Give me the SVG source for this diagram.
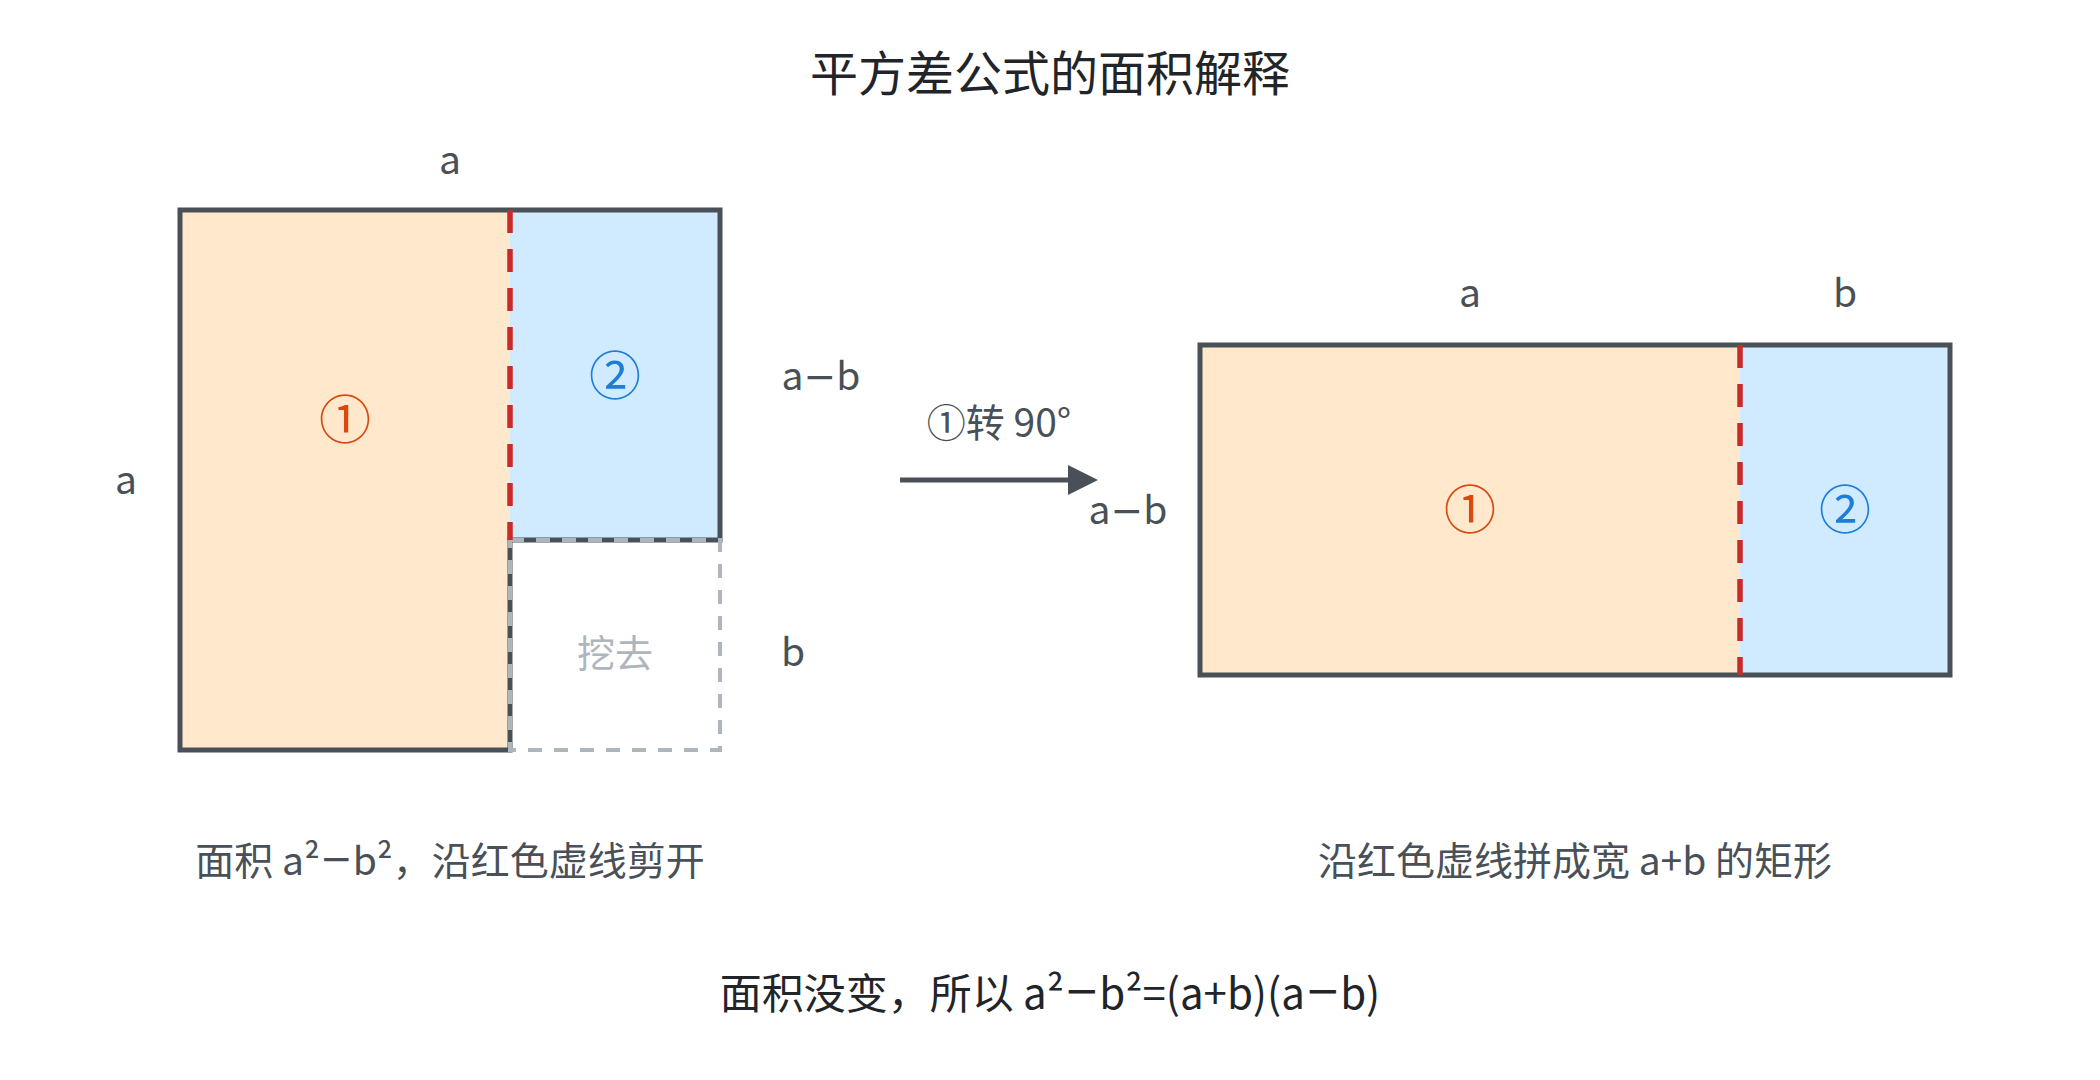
<svg xmlns="http://www.w3.org/2000/svg" width="2100" height="1080" viewBox="0 0 2100 1080">
  <style>
    text { font-family: "Noto Sans CJK SC", "Noto Sans", sans-serif; }
    .m { font-family: "DejaVu Sans", "Noto Sans CJK SC", sans-serif; }
    .title { font-size: 48px; fill: #212529; }
    .label { font-size: 39px; fill: #495057; }
    .cap { font-size: 39px; fill: #495057; }
    .bottom { font-size: 42px; fill: #212529; }
    .rot { font-size: 39px; fill: #495057; }
    .c1 { font-size: 52px; fill: #D9480F; }
    .c2 { font-size: 52px; fill: #1C7ED6; }
    .gone { font-size: 38px; fill: #ADB5BD; }
    .orange { fill: #FFE8CC; }
    .blue { fill: #D0EBFF; }
    .outline { fill: none; stroke: #495057; stroke-width: 5; }
    .cut { fill: none; stroke: #C92A2A; stroke-width: 5.5; stroke-dasharray: 23 16; }
    .removed { fill: none; stroke: #ADB5BD; stroke-width: 4; stroke-dasharray: 14 12; }
    .arrow { stroke: #495057; stroke-width: 5; fill: none; }
  </style>
  <defs>
    <marker id="ah" markerUnits="userSpaceOnUse" markerWidth="30" markerHeight="30" refX="12" refY="15" orient="auto">
      <path d="M0,0 L30,15 L0,30 Z" fill="#495057"/>
    </marker>
  </defs>
  <rect width="2100" height="1080" fill="#FFFFFF"/>

  <text id="title" class="title" x="1050" y="70" text-anchor="middle" dominant-baseline="central">平方差公式的面积解释</text>

  <g id="left-square">
    <rect class="orange" x="180" y="210" width="330" height="540"/>
    <rect class="blue" x="510" y="210" width="210" height="330"/>
    <path class="outline" d="M180,210 H720 V540 H510 V750 H180 Z"/>
    <rect class="removed" x="510" y="540" width="210" height="210"/>
    <line class="cut" x1="510" y1="210" x2="510" y2="540"/>
    <text class="c1" x="345" y="416" text-anchor="middle" dominant-baseline="central">①</text>
    <text class="c2" x="615" y="372" text-anchor="middle" dominant-baseline="central">②</text>
    <text class="gone" x="615" y="650" text-anchor="middle" dominant-baseline="central">挖去</text>
    <text class="label" x="450" y="174" text-anchor="middle">a</text>
    <text class="label" x="126" y="494" text-anchor="middle">a</text>
    <text class="label" x="821" y="390" text-anchor="middle">a<tspan class="m">−</tspan>b</text>
    <text class="label" x="793" y="666" text-anchor="middle">b</text>
  </g>

  <g id="right-rect">
    <rect class="orange" x="1200" y="345" width="540" height="330"/>
    <rect class="blue" x="1740" y="345" width="210" height="330"/>
    <rect class="outline" x="1200" y="345" width="750" height="330"/>
    <line class="cut" x1="1740" y1="345" x2="1740" y2="675"/>
    <text class="c1" x="1470" y="506" text-anchor="middle" dominant-baseline="central">①</text>
    <text class="c2" x="1845" y="506" text-anchor="middle" dominant-baseline="central">②</text>
    <text class="label" x="1470" y="307" text-anchor="middle">a</text>
    <text class="label" x="1845" y="307" text-anchor="middle">b</text>
    <text class="label" x="1128" y="524" text-anchor="middle">a<tspan class="m">−</tspan>b</text>
  </g>

  <g id="connectors">
    <line class="arrow" x1="900" y1="480" x2="1080" y2="480" marker-end="url(#ah)"/>
    <text class="rot" x="999" y="437" text-anchor="middle">①转 90°</text>
  </g>

  <text id="caption-left" class="cap" x="450" y="858" text-anchor="middle" dominant-baseline="central">面积 a²<tspan class="m">−</tspan>b²，沿红色虚线剪开</text>
  <text id="caption-right" class="cap" x="1575" y="858" text-anchor="middle" dominant-baseline="central">沿红色虚线拼成宽 a+b 的矩形</text>
  <text id="conclusion" class="bottom" x="1050" y="990" text-anchor="middle" dominant-baseline="central">面积没变，所以 a²<tspan class="m">−</tspan>b²=(a+b)(a<tspan class="m">−</tspan>b)</text>
</svg>
